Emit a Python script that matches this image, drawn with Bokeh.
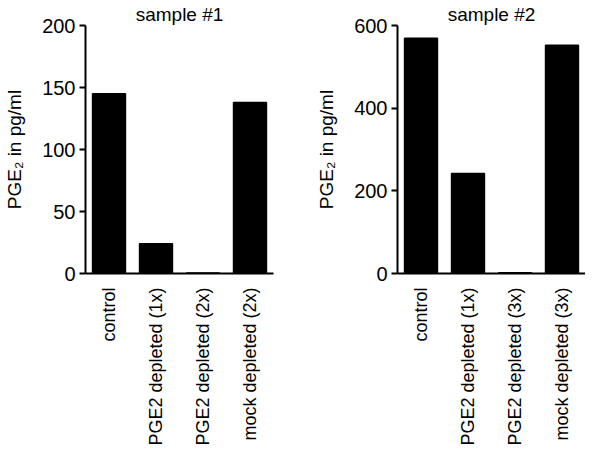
import math
from bokeh.plotting import figure
from bokeh.layouts import row
from bokeh.models import FactorRange, Range1d, FixedTicker, ColumnDataSource
from bokeh.embed import file_html
from bokeh.resources import INLINE

# ---- data ----
titles = ["sample #1", "sample #2"]
cats1 = ["control", "PGE2 depleted (1x)", "PGE2 depleted (2x)", "mock depleted (2x)"]
vals1 = [145, 24, 0.5, 138]
cats2 = ["control", "PGE2 depleted (1x)", "PGE2 depleted (3x)", "mock depleted (3x)"]
vals2 = [569, 242, 2, 552]
yticks1 = [0, 50, 100, 150, 200]
yticks2 = [0, 200, 400, 600]
ylabel = "PGE\u2082 in pg/ml"

FONT = "Liberation Sans"


def make_panel(title, cats, vals, yticks, width, left, right):
    p = figure(
        title=title,
        x_range=FactorRange(factors=cats, range_padding=0),
        y_range=Range1d(yticks[0], yticks[-1]),
        width=width,
        height=448,
        min_border_left=left,
        min_border_right=right,
        min_border_top=20,
        min_border_bottom=0,
        output_backend="svg",
        toolbar_location=None,
        tools="",
    )
    src = ColumnDataSource(dict(x=cats, top=vals))
    p.vbar(x="x", top="top", bottom=0, width=0.70, source=src,
           fill_color="black", line_color="black", line_width=1.5)

    p.title.text_font = FONT
    p.title.text_font_size = "19px"
    p.title.text_font_style = "normal"
    p.title.align = "center"
    p.title.text_color = "black"
    p.title.standoff = 2
    p.title.offset = 0

    p.xgrid.visible = False
    p.ygrid.visible = False
    p.outline_line_color = None
    p.background_fill_color = "white"
    p.border_fill_color = "white"

    xa = p.xaxis[0]
    xa.major_label_orientation = math.pi / 2
    xa.major_tick_line_color = None
    xa.minor_tick_line_color = None
    xa.axis_line_width = 2
    xa.axis_line_color = "black"
    xa.major_label_text_font = FONT
    xa.major_label_text_font_size = "18px"
    xa.major_label_text_color = "black"
    xa.major_label_standoff = 8

    ya = p.yaxis[0]
    ya.ticker = FixedTicker(ticks=yticks)
    ya.minor_tick_line_color = None
    ya.major_tick_in = 0
    ya.major_tick_out = 6
    ya.major_tick_line_width = 2
    ya.axis_line_width = 2
    ya.axis_line_color = "black"
    ya.major_label_text_font = FONT
    ya.major_label_text_font_size = "20px"
    ya.major_label_text_color = "black"
    ya.major_label_standoff = 4
    ya.axis_label = ylabel
    ya.axis_label_text_font = FONT
    ya.axis_label_text_font_size = "19px"
    ya.axis_label_text_font_style = "normal"
    ya.axis_label_text_color = "black"
    ya.axis_label_standoff = 14
    return p


p1 = make_panel(titles[0], cats1, vals1, yticks1, 311, 85, 38)
p2 = make_panel(titles[1], cats2, vals2, yticks2, 274, 86, 0)

layout = row(p1, p2)
open("out.html", "w").write(file_html(layout, INLINE))
